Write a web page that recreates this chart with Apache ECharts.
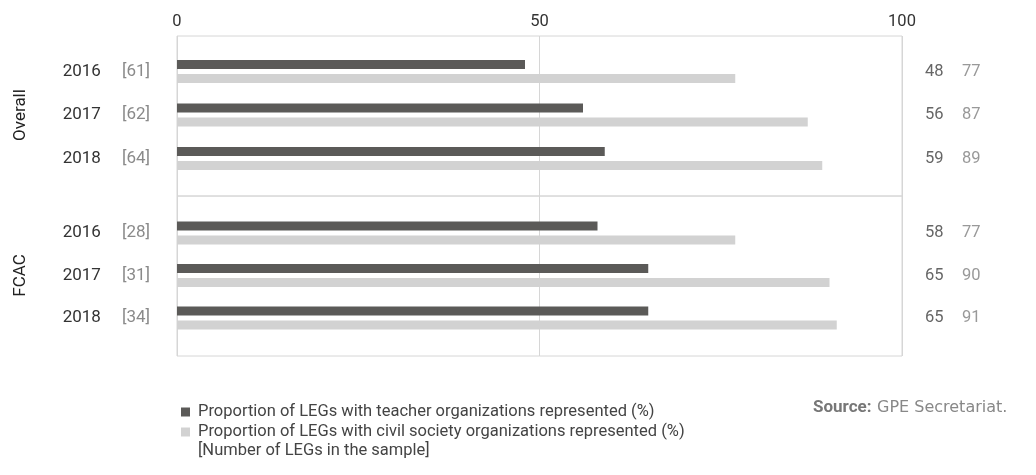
<!DOCTYPE html>
<html>
<head>
<meta charset="utf-8">
<script src="https://cdn.jsdelivr.net/npm/echarts@6/dist/echarts.min.js"></script>
<style>
html,body{margin:0;padding:0;background:#fff;}
#chart{width:1036px;height:475px;}
</style>
</head>
<body>
<div id="chart"></div>
<script>
// ---- data ----
const groups = ['Overall', 'FCAC'];
const years = ['2016', '2017', '2018'];
const overallSample = [61, 62, 64];
const fcacSample = [28, 31, 34];
const overallTeacher = [48, 56, 59];
const overallCivil = [77, 87, 89];
const fcacTeacher = [58, 65, 65];
const fcacCivil = [77, 90, 91];
const xTicks = [0, 50, 100];
const teacherName = 'Proportion of LEGs with teacher organizations represented (%)';
const civilName = 'Proportion of LEGs with civil society organizations represented (%)';
const sampleNote = '[Number of LEGs in the sample]';
const sourceLabel = 'Source:';
const sourceText = 'GPE Secretariat.';

const FONT = 'Roboto';
const DARK = '#5b5a58';
const LIGHT = '#d2d2d2';
const LINE = '#d6d6d6';

function leftLabels(samples) {
  return {
    interval: 0,
    margin: 27,
    formatter: (v, i) => '{y|' + v + '}{n|[' + samples[i] + ']}',
    rich: {
      y: { color: '#333', fontSize: 17, fontFamily: FONT, padding: [0, 21, 0, 0] },
      n: { color: '#8a8a8a', fontSize: 17, fontFamily: FONT }
    }
  };
}
function rightLabels(t, c) {
  return {
    interval: 0,
    margin: 23,
    formatter: (v, i) => '{a|' + t[i] + '}{b|' + c[i] + '}',
    rich: {
      a: { color: '#666', fontSize: 16.5, fontFamily: FONT, width: 37 },
      b: { color: '#999', fontSize: 16.5, fontFamily: FONT }
    }
  };
}
function frameX(gridIndex, showLabels) {
  return {
    gridIndex, type: 'value', min: xTicks[0], max: xTicks[xTicks.length - 1],
    interval: xTicks[1] - xTicks[0], position: 'top',
    axisLine: { show: false }, axisTick: { show: false },
    axisLabel: { show: showLabels, color: '#333', fontSize: 16.5, fontFamily: FONT, margin: 6 },
    splitLine: { show: true, lineStyle: { color: LINE, width: 1 } }
  };
}
function barX(gridIndex) {
  return { gridIndex, type: 'value', min: 0, max: 100, show: false };
}
function leftY(gridIndex, name, samples) {
  return {
    gridIndex, type: 'category', data: years, inverse: true,
    name, nameLocation: 'middle', nameRotate: 90, nameGap: 148,
    nameTextStyle: { color: '#222', fontSize: 17, fontFamily: FONT },
    axisLine: { show: false }, axisTick: { show: false },
    axisLabel: leftLabels(samples)
  };
}
function rightY(gridIndex, t, c) {
  return {
    gridIndex, type: 'category', data: years, inverse: true, position: 'right',
    axisLine: { show: false }, axisTick: { show: false },
    axisLabel: rightLabels(t, c)
  };
}
function bar(name, color, xIdx, yIdx, data) {
  return {
    name, type: 'bar', xAxisIndex: xIdx, yAxisIndex: yIdx,
    data, barWidth: 9, barGap: '55%', itemStyle: { color }, silent: true
  };
}

const chart = echarts.init(document.getElementById('chart'), null, { renderer: 'canvas' });
chart.setOption({
  animation: false,
  textStyle: { fontFamily: FONT },
  grid: [
    { left: 177, top: 36, width: 725, height: 160, show: true, borderColor: LINE, borderWidth: 1 },
    { left: 177, top: 196, width: 725, height: 160, show: true, borderColor: LINE, borderWidth: 1 },
    { left: 177, top: 49.75, width: 725, height: 130.5 },
    { left: 177, top: 211.75, width: 725, height: 127.5 }
  ],
  xAxis: [frameX(0, true), frameX(1, false), barX(2), barX(3)],
  yAxis: [
    { gridIndex: 0, type: 'value', show: false },
    { gridIndex: 1, type: 'value', show: false },
    leftY(2, groups[0], overallSample),
    rightY(2, overallTeacher, overallCivil),
    leftY(3, groups[1], fcacSample),
    rightY(3, fcacTeacher, fcacCivil)
  ],
  series: [
    bar(teacherName, DARK, 2, 2, overallTeacher),
    bar(civilName, LIGHT, 2, 2, overallCivil),
    bar(teacherName, DARK, 3, 4, fcacTeacher),
    bar(civilName, LIGHT, 3, 4, fcacCivil)
  ],
  legend: {
    orient: 'vertical', left: 176, top: 397,
    itemWidth: 9, itemHeight: 9, itemGap: 0, icon: 'rect',
    selectedMode: false,
    data: [teacherName, civilName],
    textStyle: { color: '#444', fontSize: 16.5, fontFamily: FONT, padding: [0, 0, 0, 3], lineHeight: 20 }
  },
  title: [
    { text: sampleNote, left: 198, top: 441, padding: 0,
      textStyle: { color: '#444', fontSize: 16.5, fontWeight: 'normal', fontFamily: FONT, lineHeight: 20 } },
    { text: sourceLabel, left: 813, top: 398, padding: 0,
      textStyle: { color: '#777', fontSize: 17, fontWeight: 'bold', fontFamily: FONT, lineHeight: 20 } },
    { text: sourceText, left: 877, top: 398, padding: 0,
      textStyle: { color: '#888', fontSize: 16, fontWeight: 'normal', fontFamily: 'DejaVu Sans', lineHeight: 20 } }
  ]
});
</script>
</body>
</html>
